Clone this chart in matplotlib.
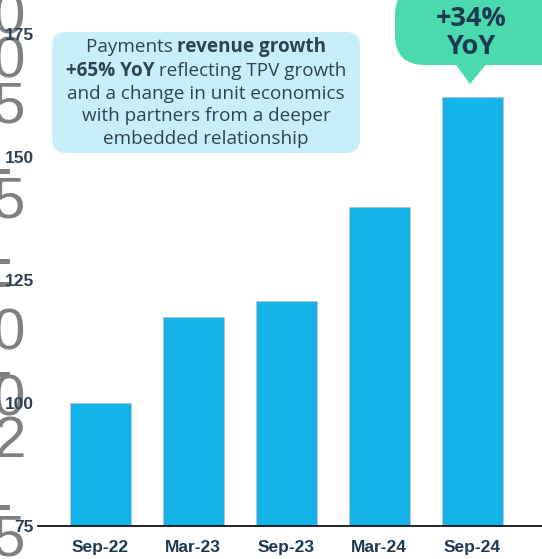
import matplotlib
matplotlib.use("Agg")
import matplotlib.pyplot as plt
from matplotlib.patches import FancyBboxPatch, Polygon
from matplotlib.transforms import IdentityTransform

# ---- data ----
categories = ["Sep-22", "Mar-23", "Sep-23", "Mar-24", "Sep-24"]
values = [100, 117.5, 120.7, 139.8, 162.2]
yticks = [75, 100, 125, 150, 175]
note_lines = [
    [("Payments ", "normal"), ("revenue growth", "bold")],
    [("+65% YoY", "bold"), (" reflecting TPV growth", "normal")],
    [("and a change in unit economics", "normal")],
    [("with partners from a deeper", "normal")],
    [("embedded relationship", "normal")],
]
callout_text = "+34%\nYoY"
side_chars = ["0", "0", "5", "-", "5", "-", "-", "0", "-", "0", "2", "-", "5"]
side_ypix = [18, 62, 108, 172, 203, 262, 285, 335, 375, 400, 442, 508, 540]

W, H = 542, 559
BAR = "#14b4e8"
NAVY = "#1e3a52"
TXT = "#2e4256"

fig = plt.figure(figsize=(W / 100, H / 100), dpi=100)
fx = lambda x: x / W
fy = lambda y: 1 - y / H
ident = IdentityTransform()

ax = fig.add_axes([fx(38), fy(526), fx(542) - fx(38), fy(0) - fy(526)])
ax.set_zorder(1)
x = range(len(categories))
ax.bar(x, values, width=0.655, color=BAR, edgecolor="#b8c4cc", linewidth=0.6, zorder=2)
ax.set_xlim(-0.667, 4.75)
ax.set_ylim(75, 181.9)
ax.set_yticks(yticks)
ax.set_yticklabels([str(t) for t in yticks], fontsize=12.5, fontweight="bold",
                   color=TXT, family="Liberation Sans")
ax.set_xticks(list(x))
ax.set_xticklabels(categories, fontsize=12.5, fontweight="bold", color=NAVY,
                   family="Liberation Sans")
ax.tick_params(axis="y", length=0, pad=3)
ax.tick_params(axis="x", length=0, pad=10)
for s in ["top", "right", "left"]:
    ax.spines[s].set_visible(False)
ax.spines["bottom"].set_color("black")
ax.spines["bottom"].set_linewidth(1.2)
ax.patch.set_alpha(0)

# side gray stacked characters (clipped at left edge)
for ch, yp in zip(side_chars, side_ypix):
    xr = 12 if ch == "-" else 25
    fig.text(fx(xr), fy(yp), ch, fontsize=42, color="#808080", ha="right",
             va="center", family="Liberation Sans", zorder=0)

# annotation box
box = FancyBboxPatch((52, H - 153), 308, 121,
                     boxstyle="round,pad=0,rounding_size=14",
                     transform=ident, facecolor="#c8eef9",
                     edgecolor="none", zorder=3)
fig.patches.append(box)

renderer = fig.canvas.get_renderer()
line_y = [47, 71, 94, 116, 139]
FS = 13.6
for parts, yp in zip(note_lines, line_y):
    widths = []
    for t, wt in parts:
        tt = fig.text(0, 0, t, fontsize=FS, fontweight=wt, family="Open Sans")
        bb = tt.get_window_extent(renderer=renderer)
        widths.append(bb.width)
        tt.remove()
    total = sum(widths)
    xs = 206 - total / 2
    for (t, wt), w in zip(parts, widths):
        fig.text(fx(xs), fy(yp), t, fontsize=FS, fontweight=wt, color=TXT,
                 family="Open Sans", ha="left", va="center", zorder=4)
        xs += w

# green callout
GREEN = "#4bdaad"
bub = FancyBboxPatch((395, H - 65), 180, 80,
                     boxstyle="round,pad=0,rounding_size=30",
                     transform=ident, facecolor=GREEN,
                     edgecolor="none", zorder=3)
fig.patches.append(bub)
tri = Polygon([(454, H - 62), (488, H - 62), (470, H - 84)],
              closed=True, transform=ident, facecolor=GREEN,
              edgecolor="none", zorder=3)
fig.patches.append(tri)
fig.text(fx(471), fy(33), callout_text, fontsize=19.5, fontweight="bold",
         color=NAVY, family="Open Sans", ha="center", va="center",
         linespacing=1.1, zorder=4)

fig.savefig("out.png", dpi=100)
